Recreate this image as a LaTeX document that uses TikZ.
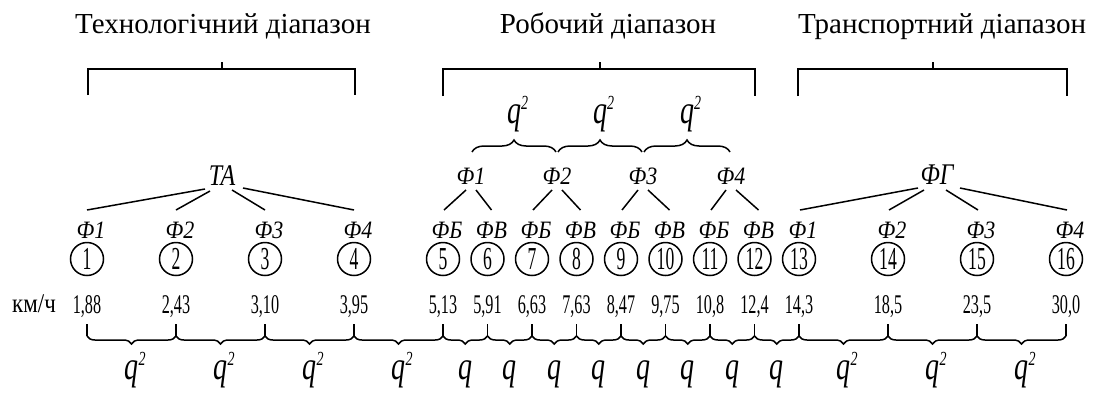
\documentclass[tikz,border=0pt]{standalone}
\usepackage{fontspec}
\usepackage{graphicx}
\setmainfont{Liberation Serif}
\usetikzlibrary{decorations.pathreplacing,calc}

% horizontally condensed text
\newcommand{\hsq}[2]{\scalebox{#1}[1]{#2}}
% ratio symbol q with a small raised 2
\newcommand{\qsq}{q\rlap{\raisebox{14pt}{\fontsize{20}{20}\selectfont 2}}}

\begin{document}
\begin{tikzpicture}[x=1pt,y=-1pt,line width=1.5pt,
  title/.style={font=\fontsize{29}{30}\selectfont, anchor=base, inner sep=0pt},
  flab/.style={font=\fontsize{25}{26}\selectfont\itshape, anchor=base, inner sep=0pt},
  grp/.style={font=\fontsize{30}{31}\selectfont\itshape, anchor=base, inner sep=0pt},
  gear/.style={circle, draw, minimum size=33pt, inner sep=0pt, font=\fontsize{32}{32}\selectfont},
  speed/.style={font=\fontsize{27}{28}\selectfont, anchor=base, inner sep=0pt},
  ratio/.style={font=\fontsize{40}{40}\selectfont\itshape, anchor=base, inner sep=0pt},
  link/.style={line width=1.5pt},
  lowbrace/.style={decorate, decoration={brace, amplitude=8pt, mirror}},
  topbrace/.style={decorate, decoration={brace, amplitude=12pt}},
]
\useasboundingbox (0,0) rectangle (1100,394);

% range titles
\node[title] (tt) at (223,33) {Технологічний діапазон};
\node[title] (tr) at (608,33) {Робочий діапазон};
\node[title] (tp) at (942,33) {Транспортний діапазон};

% range brackets
\draw (88,95) -- (88,69) -- (355,69) -- (355,95) (222,69) -- (222,62);
\draw (443,96) -- (443,69) -- (755,69) -- (755,96) (600,69) -- (600,62);
\draw (798,96) -- (798,69) -- (1067,69) -- (1067,96) (933,69) -- (933,62);

% gears, their speeds and the brace points below them
\foreach \x [count=\i] in {87,176,265,354,443,487.5,532,576.5,621,665.5,710,754.5,799,888,977,1066} {
  \node[gear] (g\i) at (\x,259) {\hsq{0.55}{\i}};
  \coordinate (t\i) at (\x,336);
}
\foreach \x/\v [count=\i] in {87/1{,}88,176/2{,}43,265/3{,}10,354/3{,}95,443/5{,}13,487.5/5{,}91,532/6{,}63,576.5/7{,}63,621/8{,}47,665.5/9{,}75,710/10{,}8,754.5/12{,}4,799/14{,}3,888/18{,}5,977/23{,}5,1066/30{,}0} {
  \node[speed] (v\i) at (\x,313) {\hsq{0.6}{\v}};
}
\node[speed] (unit) at (34,312) {\hsq{0.85}{км/ч}};

% mode labels above the gears
\foreach \x/\t [count=\i] in {87/Ф1,176/Ф2,265/Ф3,354/Ф4,443/ФБ,487.5/ФВ,532/ФБ,576.5/ФВ,621/ФБ,665.5/ФВ,710/ФБ,754.5/ФВ,799/Ф1,888/Ф2,977/Ф3,1066/Ф4} {
  \node[flab] (f\i) at (\x+4,238) {\hsq{0.88}{\t}};
}

% group nodes
\node[grp] (ta) at (222,185) {\hsq{0.8}{ТА}};
\node[grp] (fg) at (937,184) {\hsq{0.8}{ФГ}};
\foreach \x [count=\i] in {471,557,643,731} {
  \node[flab] (r\i) at (\x,184) {\hsq{0.88}{Ф\i}};
}

% technological group
\draw[link] ([shift={(-17,4)}]ta.base) -- ([shift={(-4,-28)}]f1.base);
\draw[link] ([shift={(-12,6)}]ta.base) -- ([shift={(-4,-28)}]f2.base);
\draw[link] ([shift={(10,5)}]ta.base) -- ([shift={(-4,-28)}]f3.base);
\draw[link] ([shift={(21,3)}]ta.base) -- ([shift={(-4,-28)}]f4.base);

% transport group
\draw[link] ([shift={(-19,4)}]fg.base) -- ([shift={(-3,-28)}]f13.base);
\draw[link] ([shift={(-13,6)}]fg.base) -- ([shift={(-3,-28)}]f14.base);
\draw[link] ([shift={(9,6)}]fg.base) -- ([shift={(-3,-28)}]f15.base);
\draw[link] ([shift={(23,4)}]fg.base) -- ([shift={(-3,-28)}]f16.base);

% working group: each mode splits into ФБ and ФВ
\foreach \k/\a/\b in {1/5/6,2/7/8,3/9/10,4/11/12} {
  \draw[link] ([shift={(-5,6)}]r\k.base) -- ([shift={(-3,-28)}]f\a.base);
  \draw[link] ([shift={(5,6)}]r\k.base) -- ([shift={(0,-28)}]f\b.base);
}

% ratios between working modes
\foreach \a/\b in {1/2,2/3,3/4} {
  \draw[topbrace] ([shift={(1,-32)}]r\a.base) -- ([shift={(-1,-32)}]r\b.base);
  \node[ratio] (rq\a) at ($(r\a.base)!0.5!(r\b.base)+(0,-61)$) {\hsq{0.7}{\qsq}};
}

% ratios between neighbouring gears
\foreach \i in {1,...,16} { \draw (t\i) -- ++(0,-12); }
\foreach \a/\b in {1/2,2/3,3/4,4/5,13/14,14/15,15/16} {
  \draw[lowbrace] (t\a) -- (t\b);
  \node[ratio] (bq\a) at ($(t\a)!0.5!(t\b)+(0,43)$) {\hsq{0.7}{\qsq}};
}
\foreach \a/\b in {5/6,6/7,7/8,8/9,9/10,10/11,11/12,12/13} {
  \draw[lowbrace] (t\a) -- (t\b);
  \node[ratio] (bq\a) at ($(t\a)!0.5!(t\b)+(0,43)$) {\hsq{0.7}{q}};
}
\end{tikzpicture}
\end{document}
